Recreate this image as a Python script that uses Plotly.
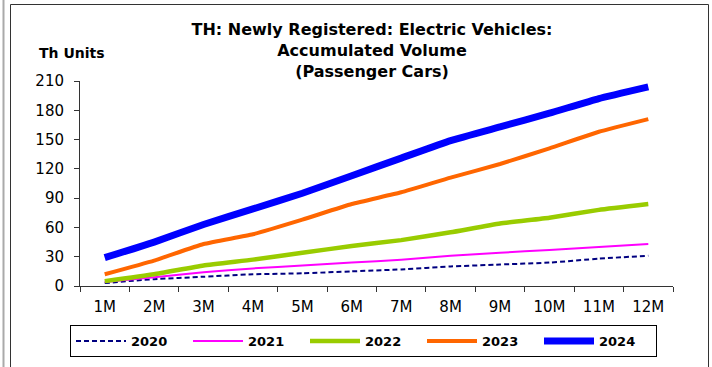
import plotly.graph_objects as go

# Accumulated newly registered passenger EVs, thousand units, by month of year
months = ["1M", "2M", "3M", "4M", "5M", "6M", "7M", "8M", "9M", "10M", "11M", "12M"]
y2020 = [3, 7, 9.5, 12, 13, 15, 17, 20, 22, 24, 28, 31]
y2021 = [4, 9, 14, 18, 21, 24, 27, 31, 34, 37, 40, 43]
y2022 = [5, 12, 21, 27, 34, 41, 47, 55, 64, 70, 78, 84]
y2023 = [12, 26, 43, 53, 68, 84, 96, 111, 125, 141, 158, 171]
y2024 = [29, 45, 63, 79, 95, 113, 131, 149, 163, 177, 192, 204]
y_ticks = [0, 30, 60, 90, 120, 150, 180, 210]

W, H = 712, 367
ML, MR, MT, MB = 80, 39, 81, 81
PW, PH = W - ML - MR, H - MT - MB


def px_x(p):
    return (p - ML) / PW


def px_y(p):
    return (H - MB - p) / PH


series = [
    ("2020", y2020, dict(color="#000080", width=2, dash="5px,3px")),
    ("2021", y2021, dict(color="#FF00FF", width=2)),
    ("2022", y2022, dict(color="#99CC00", width=4.5)),
    ("2023", y2023, dict(color="#FF6600", width=4)),
    ("2024", y2024, dict(color="#0000FF", width=7)),
]

fig = go.Figure()
for name, vals, line in series:
    fig.add_trace(go.Scatter(x=months, y=vals, name=name, mode="lines",
                             line=dict(shape="spline", smoothing=0.4, **line)))

fig.update_layout(
    width=W, height=H,
    margin=dict(l=ML, r=MR, t=MT, b=MB, pad=0, autoexpand=False),
    paper_bgcolor="white", plot_bgcolor="white",
    font=dict(family="DejaVu Sans", size=15, color="black"),
    title=dict(
        text="<b>TH: Newly Registered: Electric Vehicles:<br>Accumulated Volume<br>(Passenger Cars)</b>",
        font=dict(family="DejaVu Sans", size=16, color="black"),
        x=px_x(372), xref="paper", xanchor="center",
        y=1 - 35 / H, yref="container", yanchor="top",
    ),
    showlegend=True,
    legend=dict(
        orientation="h", x=px_x(70), xanchor="left", xref="paper",
        y=px_y(325), yanchor="top", yref="paper",
        bordercolor="black", borderwidth=1, bgcolor="white",
        font=dict(family="DejaVu Sans", size=13, color="black", weight="bold"),
        entrywidth=52, entrywidthmode="pixels", itemwidth=50,
        traceorder="normal", tracegroupgap=0,
    ),
    xaxis=dict(
        type="category", range=[-0.5, 11.5], tickson="boundaries",
        ticks="outside", ticklen=5, tickcolor="#333", linecolor="#333",
        showline=True, showgrid=False, zeroline=False,
        tickfont=dict(size=15), ticklabelstandoff=7,
    ),
    yaxis=dict(
        range=[0, 210], tickvals=y_ticks, ticks="outside", ticklen=5,
        tickcolor="#333", linecolor="#333", showline=True, showgrid=False,
        zeroline=False, tickfont=dict(size=15), ticklabelstandoff=7,
    ),
    annotations=[dict(
        text="<b>Th Units</b>", x=px_x(37), y=px_y(53), xref="paper", yref="paper",
        xanchor="left", yanchor="middle", showarrow=False,
        font=dict(family="DejaVu Sans", size=14, color="black"),
    )],
    shapes=[
        dict(type="line", xref="paper", yref="paper", x0=px_x(3.5), x1=px_x(3.5),
             y0=px_y(-5), y1=px_y(H + 5), line=dict(color="#AAAAAA", width=2)),
        dict(type="rect", xref="paper", yref="paper", x0=px_x(10.5), x1=px_x(708.5),
             y0=px_y(4.5), y1=px_y(H + 10), line=dict(color="#333333", width=1)),
    ],
)

fig.write_html("out.html")
